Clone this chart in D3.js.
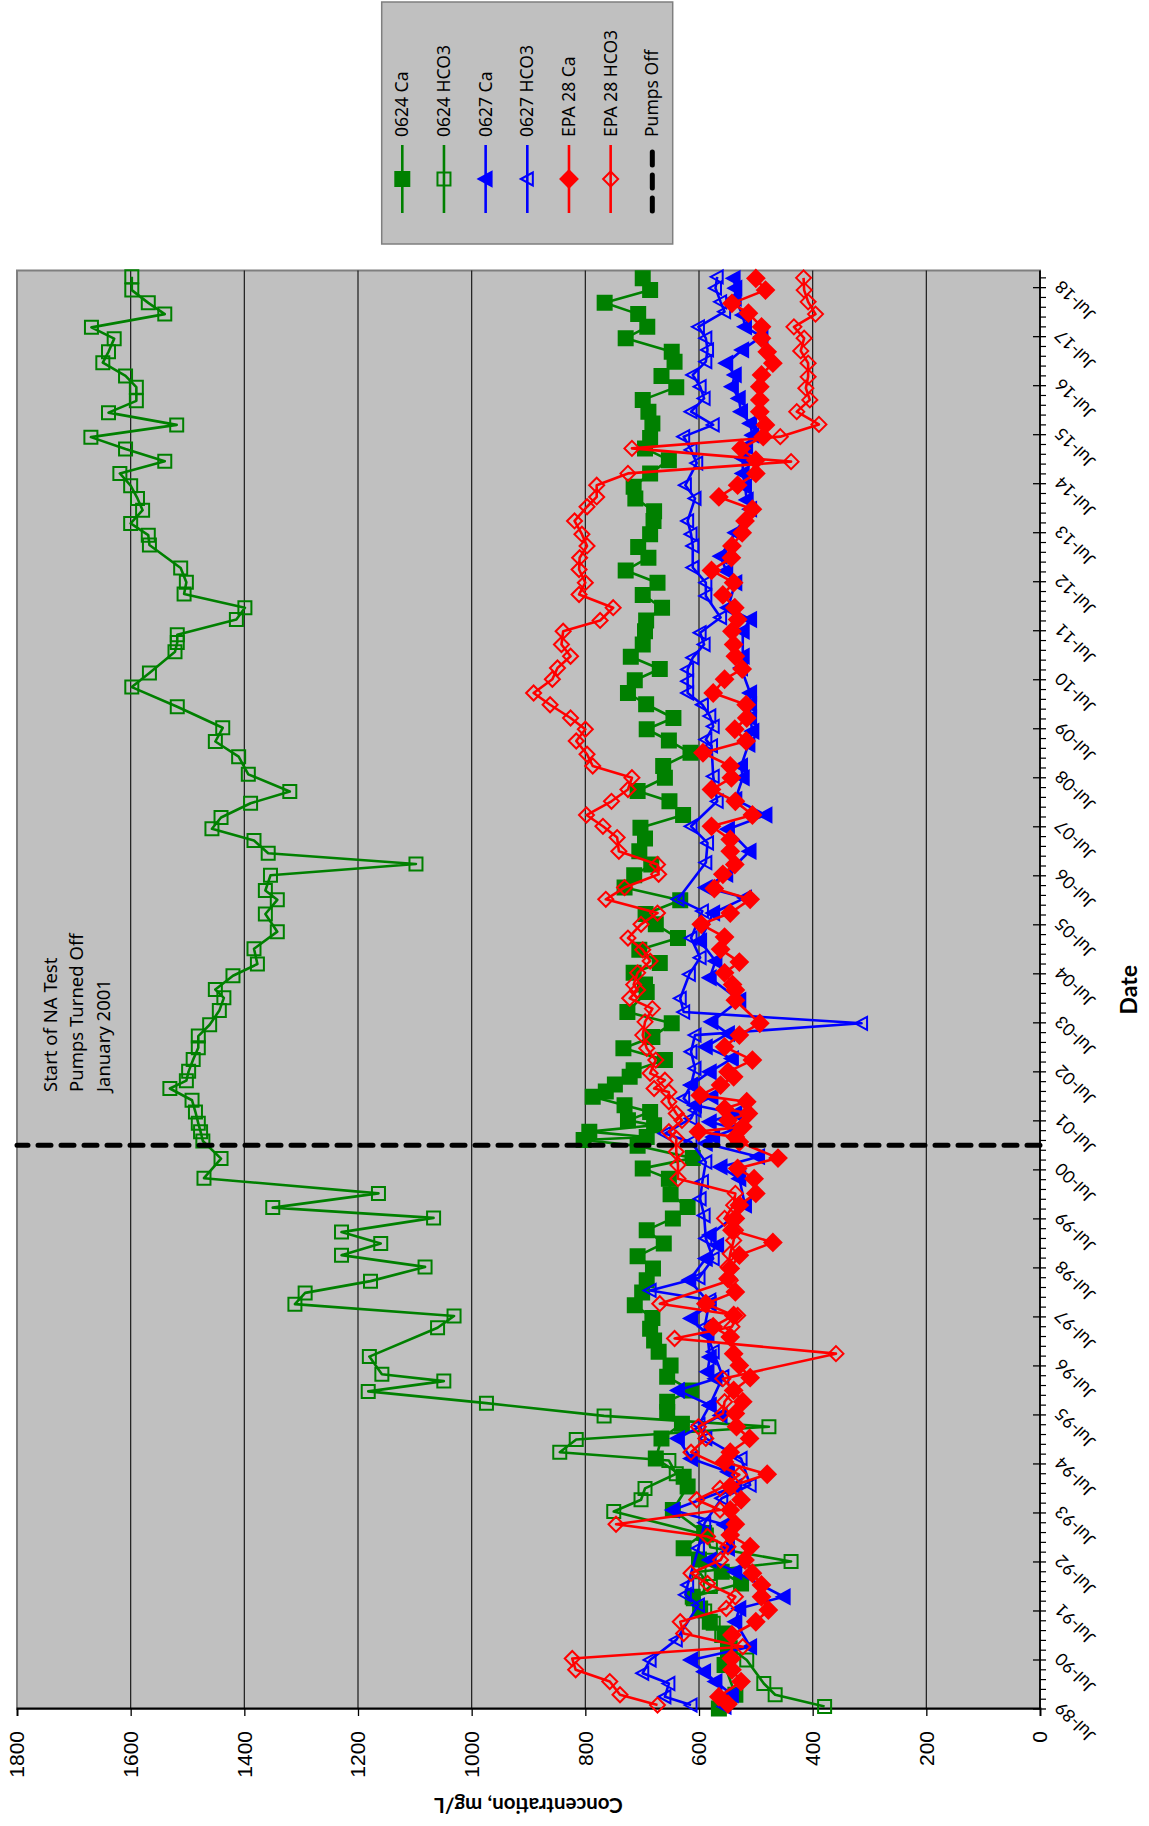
<!DOCTYPE html>
<html><head><meta charset="utf-8">
<script src="https://cdn.jsdelivr.net/npm/d3@7"></script>
<style>body{margin:0;background:#fff}svg{display:block}</style>
</head><body>
<svg id="c" width="1149" height="1826"></svg>
<script>
// ---- data: [decimal year, mg/L] ----
const ca0624 = [[1989.51,565],[1989.79,536],[1990.40,555],[1990.70,549],[1991.04,555],[1991.28,581],[1991.55,598],[1991.79,611],[1992.06,526],[1992.3,560],[1992.55,600],[1992.78,627],[1993.09,591],[1993.56,646],[1994.04,620],[1994.24,627],
[1994.61,676],[1995.02,666],[1995.32,630],[1995.56,656],[1995.77,656],[1996.0,614],[1996.28,656],[1996.51,650],[1996.79,671],[1997.02,679],[1997.26,686],[1997.48,682],[1997.74,713],[1998.0,700],[1998.25,692],[1998.49,681],[1998.74,708],[1999.0,662],[1999.27,692],
[1999.51,646],[1999.74,620],[2000.0,650],[2000.32,653],[2000.53,699],[2000.74,611],[2000.99,708],[2001.11,803],[2001.17,692],[2001.28,793],[2001.41,679],[2001.51,725],[2001.68,686],[2001.82,731],[2001.99,787],[2002.10,764],[2002.24,748],[2002.40,722],[2002.53,715],[2002.74,660],[2002.98,733],[2003.21,682],[2003.49,648],[2003.72,726],[2004.13,692],
[2004.28,695],[2004.52,715],[2004.72,669],[2004.99,705],[2005.23,637],[2005.51,676],[2005.72,694],[2006.0,633],[2006.26,731],[2006.51,714],[2006.73,684],[2007.0,705],[2007.26,695],[2007.48,703],[2007.74,628],[2008.02,652],[2008.23,708],[2008.5,660],[2008.74,663],[2009.01,615],
[2009.26,653],[2009.49,692],[2009.72,645],[2010.0,693],[2010.23,725],[2010.49,713],[2010.72,669],[2010.97,720],[2011.22,699],[2011.49,695],[2011.71,693],[2011.97,665],[2012.23,699],[2012.48,673],[2012.73,729],[2012.99,689],[2013.21,707],[2013.47,686],[2013.74,680],[2013.94,679],
[2014.20,712],[2014.44,715],[2014.71,686],[2014.98,653],[2015.22,695],[2015.43,686],[2015.73,682],[2015.97,689],[2016.21,699],[2016.47,640],[2016.70,666],[2016.99,643],[2017.19,648],[2017.47,729],[2017.70,691],[2017.96,707],[2018.19,766],[2018.45,686],[2018.69,699]];

const hco3_0624 = [[1989.55,379],[1989.79,466],[1990.02,486],[1990.5,516],[1990.75,545],[1991.0,560],[1991.25,575],[1991.5,590],[1991.75,610],[1992.0,580],[1992.3,600],[1992.51,438],[1992.8,580],[1993.05,587],[1993.53,750],[1993.77,702],[1994.0,695],[1994.3,640],[1994.57,653],[1994.74,845],[1995.0,816],[1995.26,477],[1995.48,767],[1995.74,974],[1995.98,1182],[1996.19,1049],[1996.33,1158],[1996.69,1180],[1997.28,1060],[1997.52,1031],[1997.76,1311],[1997.99,1293],[1998.23,1178],[1998.52,1082],[1998.76,1229],[1999.0,1160],[1999.23,1229],[1999.52,1067],[1999.73,1350],[2000.02,1164],[2000.33,1471],[2000.73,1441],[2001.09,1473],[2001.28,1477],[2001.45,1481],[2001.68,1486],[2001.92,1492],[2002.16,1531],[2002.32,1502],[2002.51,1498],[2002.75,1490],[2002.99,1481],[2003.23,1481],[2003.46,1461],[2003.75,1444],[2004.01,1436],[2004.18,1451],[2004.46,1420],[2004.70,1377],[2005.01,1383],[2005.36,1342],[2005.72,1363],[2006.01,1342],[2006.20,1363],[2006.51,1354],[2006.74,1098],[2006.96,1358],[2007.22,1383],[2007.46,1457],[2007.69,1441],[2007.98,1389],[2008.22,1320],[2008.57,1393],[2008.93,1410],[2009.24,1451],[2009.52,1438],[2009.95,1518],[2010.35,1598],[2010.64,1567],[2011.07,1522],[2011.26,1518],[2011.42,1518],[2011.73,1414],[2011.97,1399],[2012.25,1506],[2012.49,1502],[2012.78,1512],[2013.25,1567],[2013.45,1569],[2013.69,1600],[2013.96,1579],[2014.20,1588],[2014.46,1600],[2014.71,1619],[2014.96,1540],[2015.21,1609],[2015.45,1670],[2015.70,1519],[2015.95,1639],[2016.19,1590],[2016.47,1590],[2016.70,1609],[2016.97,1649],[2017.19,1639],[2017.46,1629],[2017.69,1669],[2017.96,1540],[2018.19,1569],[2018.45,1598],[2018.72,1598]];

const ca0627 = [[1989.55,555],[1989.79,542],[1990.06,571],[1990.26,591],[1990.50,614],[1990.77,510],[1991.28,536],[1991.55,529],[1991.79,451],[1992.30,536],[1992.54,581],[1992.78,549],[1993.26,555],[1993.56,646],[1994.04,536],[1994.34,549],[1994.61,614],[1995.02,637],[1995.49,562],[1995.70,581],[1996.0,637],[1996.24,571],[1996.38,585],[1996.68,581],[1997.13,585],[1997.47,614],[1997.77,581],[1998.25,617],[1998.69,588],[1998.96,568],[1999.17,581],[1999.51,542],[1999.78,519],[2000.32,529],[2000.56,562],[2000.77,496],[2001.04,588],[2001.17,575],[2001.34,536],[2001.48,581],[2001.65,536],[2001.82,607],[2001.99,578],[2002.23,614],[2002.50,581],[2002.77,542],[2003.01,588],[2003.28,549],[2003.52,578],[2003.96,529],[2004.42,581],[2004.76,571],[2005.17,598],[2005.74,575],[2006.05,519],[2006.26,588],[2006.53,552],[2007.0,511],[2007.45,549],[2007.74,483],[2008.06,536],[2008.5,523],[2008.74,526],[2009.18,513],[2009.45,506],[2009.72,510],[2009.99,510],[2010.23,510],[2010.74,526],[2010.98,523],[2011.49,523],[2011.73,510],[2011.97,549],[2012.48,536],[2012.72,552],[2013.02,562],[2013.5,536],[2013.98,510],[2014.17,516],[2014.44,519],[2014.71,523],[2015.02,523],[2015.26,517],[2015.49,506],[2015.73,510],[2015.97,526],[2016.24,530],[2016.48,542],[2016.72,537],[2016.96,552],[2017.23,524],[2017.50,490],[2017.70,519],[2017.94,523],[2018.28,537],[2018.49,536],[2018.69,539]];

const hco3_0627 = [[1989.58,614],[1989.75,660],[1990.02,653],[1990.23,699],[1990.50,686],[1990.91,640],[1991.62,601],[1991.83,624],[1992.03,620],[1992.78,601],[1993.3,590],[1993.8,560],[1994.07,510],[1994.61,526],[1995.02,588],[1995.3,600],[1995.70,581],[1996.28,558],[1996.79,575],[1997.3,590],[1997.84,581],[1998.04,686],[1998.3,600],[1998.69,575],[1999.1,588],[1999.57,591],[1999.91,598],[2000.26,594],[2000.66,588],[2001.07,614],[2001.24,660],[2001.55,614],[2001.72,607],[2001.96,627],[2002.23,614],[2002.57,607],[2002.91,614],[2003.25,607],[2003.49,314],[2003.72,627],[2004.0,633],[2004.49,617],[2004.83,598],[2005.23,614],[2005.78,594],[2006.02,637],[2006.77,588],[2007.17,585],[2007.51,614],[2008.02,568],[2008.53,575],[2009.15,578],[2009.28,588],[2009.55,575],[2009.76,581],[2009.99,594],[2010.23,620],[2010.47,620],[2010.71,620],[2010.95,611],[2011.22,591],[2011.46,598],[2011.77,562],[2012.21,588],[2012.48,588],[2012.79,611],[2013.23,611],[2013.47,614],[2013.74,620],[2014.20,607],[2014.47,624],[2014.92,604],[2015.19,614],[2015.46,627],[2015.70,575],[2015.97,614],[2016.24,591],[2016.48,598],[2016.72,611],[2016.99,588],[2017.23,585],[2017.47,588],[2017.70,601],[2018.01,555],[2018.21,562],[2018.49,571],[2018.72,568]];

const caEPA28 = [[1989.60,549],[1989.75,565],[1990.06,526],[1990.30,542],[1990.53,543],[1991.01,542],[1991.28,500],[1991.52,478],[1991.79,490],[1992.03,490],[1992.27,506],[1992.54,519],[1992.81,510],[1993.05,545],[1993.27,536],[1993.56,545],[1993.77,526],[1994.04,545],[1994.29,480],[1994.54,555],[1994.74,545],[1995.02,511],[1995.26,534],[1995.53,536],[1995.77,523],[1996.0,539],[1996.26,510],[1996.51,529],[1996.75,539],[1997.09,545],[1997.30,575],[1997.53,539],[1997.77,588],[1998.01,536],[1998.28,549],[1998.49,545],[1998.76,529],[1999.02,470],[1999.27,542],[1999.51,536],[1999.78,529],[2000.02,500],[2000.32,503],[2000.53,532],[2000.74,461],[2001.07,529],[2001.17,536],[2001.28,601],[2001.38,523],[2001.51,549],[2001.65,513],[2001.75,555],[2001.89,516],[2002.02,598],[2002.23,562],[2002.40,539],[2002.50,549],[2002.74,506],[2003.01,555],[2003.25,529],[2003.49,493],[2003.96,536],[2004.17,536],[2004.28,541],[2004.52,555],[2004.74,529],[2005.0,562],[2005.25,555],[2005.51,596],[2005.74,545],[2006.02,510],[2006.24,573],[2006.53,558],[2006.73,537],[2007.0,545],[2007.24,545],[2007.51,578],[2007.74,506],[2008.02,536],[2008.26,578],[2008.5,543],[2008.74,545],[2009.01,593],[2009.25,517],[2009.49,537],[2009.72,516],[2009.99,517],[2010.23,575],[2010.51,555],[2010.72,524],[2010.98,536],[2011.22,539],[2011.49,542],[2011.73,532],[2011.97,537],[2012.23,558],[2012.48,539],[2012.73,578],[2012.99,543],[2013.23,542],[2013.5,524],[2013.74,519],[2013.98,506],[2014.23,565],[2014.47,532],[2014.71,500],[2014.98,500],[2015.22,526],[2015.46,487],[2015.70,483],[2015.97,493],[2016.21,493],[2016.48,493],[2016.72,490],[2016.96,470],[2017.19,480],[2017.47,490],[2017.70,490],[2017.98,513],[2018.18,542],[2018.45,483],[2018.69,500]];

const hco3EPA28 = [[1989.58,673],[1989.79,739],[1990.06,757],[1990.30,817],[1990.53,823],[1990.77,523],[1991.04,627],[1991.28,633],[1991.55,552],[1991.79,536],[1992.06,585],[1992.27,614],[1992.54,562],[1992.81,549],[1993.02,585],[1993.27,746],[1993.56,563],[1993.77,604],[1994.0,563],[1994.28,529],[1994.74,614],[1995.02,588],[1995.26,601],[1995.53,558],[1995.77,555],[1996.0,539],[1996.24,558],[1996.75,359],[1997.06,643],[1997.30,542],[1997.53,532],[1997.77,669],[1998.25,545],[1998.52,549],[1998.79,545],[1999.06,539],[1999.27,536],[1999.51,555],[1999.78,539],[2000.02,536],[2000.32,637],[2000.60,637],[2000.87,640],[2001.14,640],[2001.28,653],[2001.51,630],[2001.65,640],[2001.89,653],[2002.09,653],[2002.16,679],[2002.33,660],[2002.47,686],[2002.74,676],[2002.98,692],[2003.25,699],[2003.52,695],[2003.79,682],[2004.0,722],[2004.17,708],[2004.28,715],[2004.52,708],[2004.76,686],[2004.99,699],[2005.23,725],[2005.51,702],[2005.74,673],[2006.02,764],[2006.26,731],[2006.53,671],[2006.73,673],[2007.0,741],[2007.28,744],[2007.51,769],[2007.74,798],[2008.02,754],[2008.26,725],[2008.5,718],[2008.74,787],[2008.98,797],[2009.25,816],[2009.49,800],[2009.72,826],[2009.99,862],[2010.23,891],[2010.51,858],[2010.74,849],[2010.98,826],[2011.22,842],[2011.49,839],[2011.71,774],[2011.97,751],[2012.24,811],[2012.48,800],[2012.75,811],[2012.99,810],[2013.23,797],[2013.47,806],[2013.74,819],[2014.03,797],[2014.23,780],[2014.47,780],[2014.71,725],[2014.95,438],[2015.22,718],[2015.46,457],[2015.71,389],[2015.97,428],[2016.21,405],[2016.45,412],[2016.68,408],[2016.96,408],[2017.21,421],[2017.47,415],[2017.70,433],[2017.96,395],[2018.21,408],[2018.45,415],[2018.70,416]];

const pumpsOff = [[2001.0,0],[2001.0,1800]];

const seriesNames = ["0624 Ca","0624 HCO3","0627 Ca","0627 HCO3","EPA 28 Ca","EPA 28 HCO3","Pumps Off"];
const seriesColors = ["#008000","#008000","#0000FF","#0000FF","#FF0000","#FF0000","#000000"];
const seriesMarkers = ["square","square","triangle","triangle","diamond","diamond","none"];
const seriesFilled = [true,false,true,false,true,false,false];
const seriesData = [ca0624,hco3_0624,ca0627,hco3_0627,caEPA28,hco3EPA28,pumpsOff];

const yTicks = [0,200,400,600,800,1000,1200,1400,1600,1800];
const xTickYears = d3.range(1989,2019); // labelled Jul-YY
const xTickLabel = yr => "Jul-" + String(yr % 100).padStart(2,"0");
const annotation = ["Start of NA Test","Pumps Turned Off","January 2001"];

// ---- drawing (chart built in its unrotated frame, then rotated -90°) ----
const svg = d3.select("#c");
const g = svg.append("g").attr("transform","translate(0,1826) rotate(-90)");

const plotL = 117, plotR = 1555.5, plotT = 17, plotB = 1040;
const x = d3.scaleLinear().domain([1989.5, 2018.85]).range([plotL, plotR]);
const y = d3.scaleLinear().domain([0,1800]).range([plotB, plotT]);

g.append("rect").attr("x",plotL).attr("y",plotT).attr("width",plotR-plotL).attr("height",plotB-plotT)
 .attr("fill","#C0C0C0").attr("stroke","#7f7f7f").attr("stroke-width",2);

// gridlines
g.append("g").selectAll("line").data(yTicks.filter(v=>v>0 && v<1800)).join("line")
 .attr("x1",plotL).attr("x2",plotR).attr("y1",d=>y(d)).attr("y2",d=>y(d))
 .attr("stroke","#1a1a1a").attr("stroke-width",1.2);

// value axis (left in unrotated frame)
const yAxis = d3.axisLeft(y).tickValues(yTicks).tickFormat(d3.format("d")).tickSize(7).tickPadding(15);
const ya = g.append("g").attr("transform",`translate(${plotL},0)`).call(yAxis);
ya.select(".domain").attr("stroke","#000").attr("stroke-width",1.8);
ya.selectAll(".tick line").attr("stroke","#000").attr("stroke-width",1.3);
ya.selectAll(".tick text").attr("font-family","'Liberation Sans', Arial, sans-serif").attr("font-size",21).attr("fill","#000");

// date axis (bottom in unrotated frame)
const xa = g.append("g").attr("transform",`translate(0,${plotB})`);
const minor = d3.range(0, 29.36, 0.2).map(k=>1989.5+k).filter(v=>Math.abs((v-1989.5)-Math.round(v-1989.5))>0.01);
xa.selectAll("line.minor").data(minor).join("line").attr("class","minor")
 .attr("x1",d=>x(d)).attr("x2",d=>x(d)).attr("y1",0).attr("y2",6).attr("stroke","#000").attr("stroke-width",1.2);
xa.selectAll("line.major").data(xTickYears).join("line").attr("class","major")
 .attr("x1",d=>x(d+0.5)).attr("x2",d=>x(d+0.5)).attr("y1",-7).attr("y2",6).attr("stroke","#000").attr("stroke-width",1.3);
xa.append("line").attr("x1",plotL).attr("x2",plotR).attr("y1",0).attr("y2",0).attr("stroke","#000").attr("stroke-width",1.8);
xa.selectAll("text").data(xTickYears).join("text")
 .attr("transform",d=>`translate(${x(d+0.5)+4},${18}) rotate(-45)`)
 .attr("text-anchor","end").attr("dy","0.35em")
 .attr("font-family","Lato, 'Open Sans', sans-serif").attr("font-size",17.5).attr("fill","#000")
 .text(xTickLabel);

// axis titles
g.append("text").attr("transform",`translate(21,${(plotT+plotB)/2}) rotate(-90)`)
 .attr("text-anchor","middle").attr("dy","0.35em")
 .attr("font-family","Lato, sans-serif").attr("font-weight","bold").attr("font-size",20.5)
 .text("Concentration, mg/L");
g.append("text").attr("x",(plotL+plotR)/2).attr("y",1129).attr("text-anchor","middle").attr("dy","0.35em")
 .attr("font-family","Lato, sans-serif").attr("font-weight","bold").attr("font-size",23)
 .text("Date");

// marker paths
function markerPath(type, filled){
  if(type==="square"){ const s = filled?7:6.5; return `M${-s},${-s}H${s}V${s}H${-s}Z`; }
  if(type==="triangle"){ const s = filled?7:6.5; return `M0,${-s}L${s},${s*0.85}L${-s},${s*0.85}Z`; }
  if(type==="diamond"){ const s = filled?8.5:7.5; return `M0,${-s}L${s},0L0,${s}L${-s},0Z`; }
  return "";
}

const line = d3.line().x(d=>x(d[0])).y(d=>y(d[1]));
seriesData.forEach((data,i)=>{
  const sg = g.append("g");
  const col = seriesColors[i];
  if(seriesMarkers[i]==="none"){
    sg.append("path").datum(data).attr("d",line).attr("fill","none").attr("stroke",col)
      .attr("stroke-width",5).attr("stroke-dasharray","13,10").attr("stroke-linecap","round");
    return;
  }
  const sorted = data.slice().sort((a,b)=>a[0]-b[0]);
  sg.append("path").datum(sorted).attr("d",line).attr("fill","none").attr("stroke",col).attr("stroke-width",2.6).attr("stroke-linejoin","round");
  sg.selectAll("path.m").data(sorted).join("path").attr("class","m")
    .attr("transform",d=>`translate(${x(d[0])},${y(d[1])})`)
    .attr("d",markerPath(seriesMarkers[i],seriesFilled[i]))
    .attr("fill",seriesFilled[i]?col:"none").attr("stroke",col).attr("stroke-width",2);
});

// annotation
const ann = g.append("text").attr("font-family","'Noto Sans', 'Open Sans', sans-serif").attr("font-size",18.5).attr("fill","#000");
annotation.forEach((t,i)=>{
  ann.append("tspan").attr("x",734).attr("y",[51,77,104][i]).attr("dy","0.35em").text(t);
});

// legend
const lg = g.append("g").attr("transform","translate(0,380)");
lg.append("rect").attr("x",1582).attr("y",1.7).attr("width",242).attr("height",291)
  .attr("fill","#C0C0C0").attr("stroke","#7f7f7f").attr("stroke-width",1.5);
const rowV = d3.range(7).map(i=>22.3+i*41.67);
seriesNames.forEach((nm,i)=>{
  const r = lg.append("g").attr("transform",`translate(0,${rowV[i]})`);
  const col = seriesColors[i];
  if(seriesMarkers[i]==="none"){
    r.append("line").attr("x1",1615).attr("x2",1680).attr("stroke",col).attr("stroke-width",5)
      .attr("stroke-dasharray","13,10").attr("stroke-linecap","round");
  } else {
    r.append("line").attr("x1",1613).attr("x2",1681).attr("stroke",col).attr("stroke-width",2.6);
    r.append("path").attr("transform","translate(1647,0)").attr("d",markerPath(seriesMarkers[i],seriesFilled[i]))
      .attr("fill",seriesFilled[i]?col:"none").attr("stroke",col).attr("stroke-width",2);
  }
  r.append("text").attr("x",1689).attr("dy","0.35em").attr("font-family","'Noto Sans', 'Open Sans', sans-serif")
    .attr("font-size",17.5).attr("fill","#000").text(nm);
});
</script>
</body></html>
